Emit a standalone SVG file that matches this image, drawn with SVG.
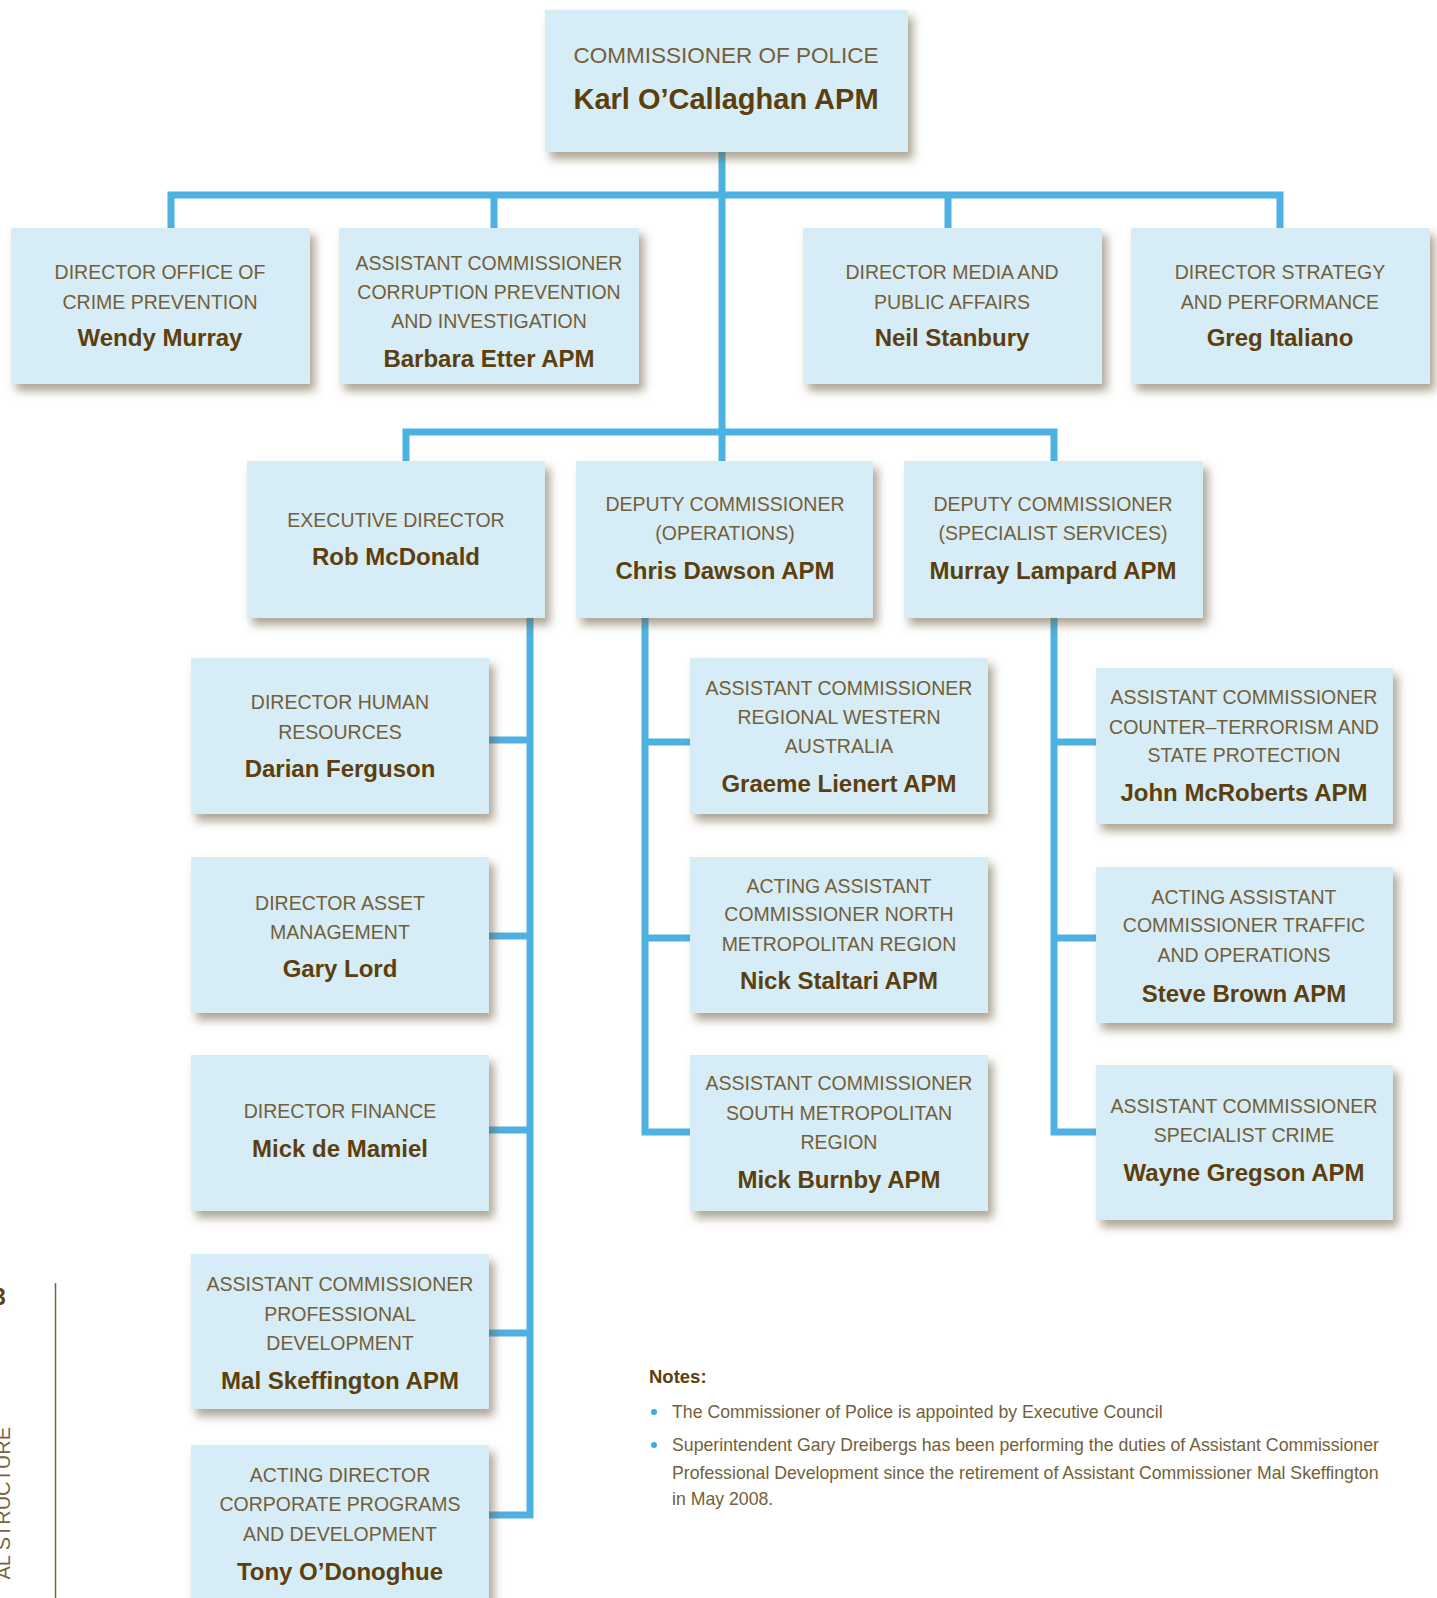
<svg xmlns="http://www.w3.org/2000/svg" width="1437" height="1598" viewBox="0 0 1437 1598">
<defs>
<filter id="sh" x="-10%" y="-10%" width="125%" height="130%">
<feDropShadow dx="5" dy="7" stdDeviation="5" flood-color="#6b5a3a" flood-opacity="0.55"/>
</filter>
<style>
.box{fill:#d6ecf6;filter:url(#sh)}
.t{font-family:"Liberation Sans",Arial,sans-serif;font-size:19.5px;fill:#735f3a;text-anchor:middle}
.n{font-family:"Liberation Sans",Arial,sans-serif;font-size:24px;font-weight:bold;fill:#5c3f0c;text-anchor:middle}
.c{fill:none;stroke:#4db2e2;stroke-width:7;stroke-linejoin:miter;stroke-linecap:butt}
.note{font-family:"Liberation Sans",Arial,sans-serif;font-size:17.7px;fill:#735f3a}
</style>
</defs>
<rect width="1437" height="1598" fill="#ffffff"/>
<g id="connectors">
<path class="c" d="M722,152 V461"/>
<path class="c" d="M171,228 V195 H1280 V228"/>
<path class="c" d="M494,195 V228 M948,195 V228"/>
<path class="c" d="M406,461 V432 H1054 V461"/>
<path class="c" d="M530,618 V1515 H489"/>
<path class="c" d="M489,740 H530 M489,936 H530 M489,1130 H530 M489,1333 H530"/>
<path class="c" d="M645,618 V1132 H690"/>
<path class="c" d="M645,742 H690 M645,938 H690"/>
<path class="c" d="M1054,618 V1132 H1096"/>
<path class="c" d="M1054,742 H1096 M1054,938 H1096"/>
</g>
<g id="commissioner">
<rect class="box" x="545" y="10" width="363" height="142"/>
<text x="726" y="63" class="t" style="font-size:22.5px">COMMISSIONER OF POLICE</text>
<text x="726" y="109" class="n" style="font-size:29px">Karl O’Callaghan APM</text>
</g>
<g id="dir-crime-prevention">
<rect class="box" x="11" y="228" width="299" height="156"/>
<text x="160" y="279" class="t">DIRECTOR OFFICE OF</text>
<text x="160" y="309" class="t">CRIME PREVENTION</text>
<text x="160" y="346" class="n">Wendy Murray</text>
</g>
<g id="ac-corruption">
<rect class="box" x="339" y="228" width="300" height="156"/>
<text x="489" y="270" class="t">ASSISTANT COMMISSIONER</text>
<text x="489" y="299" class="t">CORRUPTION PREVENTION</text>
<text x="489" y="328" class="t">AND INVESTIGATION</text>
<text x="489" y="367" class="n">Barbara Etter APM</text>
</g>
<g id="dir-media">
<rect class="box" x="803" y="228" width="299" height="156"/>
<text x="952" y="279" class="t">DIRECTOR MEDIA AND</text>
<text x="952" y="309" class="t">PUBLIC AFFAIRS</text>
<text x="952" y="346" class="n">Neil Stanbury</text>
</g>
<g id="dir-strategy">
<rect class="box" x="1131" y="228" width="299" height="156"/>
<text x="1280" y="279" class="t">DIRECTOR STRATEGY</text>
<text x="1280" y="309" class="t">AND PERFORMANCE</text>
<text x="1280" y="346" class="n">Greg Italiano</text>
</g>
<g id="exec-director">
<rect class="box" x="247" y="461" width="298" height="157"/>
<text x="396" y="527" class="t">EXECUTIVE DIRECTOR</text>
<text x="396" y="565" class="n">Rob McDonald</text>
</g>
<g id="dc-operations">
<rect class="box" x="576" y="461" width="297" height="157"/>
<text x="725" y="511" class="t">DEPUTY COMMISSIONER</text>
<text x="725" y="540" class="t">(OPERATIONS)</text>
<text x="725" y="579" class="n">Chris Dawson APM</text>
</g>
<g id="dc-specialist">
<rect class="box" x="904" y="461" width="299" height="157"/>
<text x="1053" y="511" class="t">DEPUTY COMMISSIONER</text>
<text x="1053" y="540" class="t">(SPECIALIST SERVICES)</text>
<text x="1053" y="579" class="n">Murray Lampard APM</text>
</g>
<g id="dir-hr">
<rect class="box" x="191" y="658" width="298" height="156"/>
<text x="340" y="709" class="t">DIRECTOR HUMAN</text>
<text x="340" y="739" class="t">RESOURCES</text>
<text x="340" y="777" class="n">Darian Ferguson</text>
</g>
<g id="dir-asset">
<rect class="box" x="191" y="857" width="298" height="156"/>
<text x="340" y="910" class="t">DIRECTOR ASSET</text>
<text x="340" y="939" class="t">MANAGEMENT</text>
<text x="340" y="977" class="n">Gary Lord</text>
</g>
<g id="dir-finance">
<rect class="box" x="191" y="1055" width="298" height="156"/>
<text x="340" y="1118" class="t">DIRECTOR FINANCE</text>
<text x="340" y="1157" class="n">Mick de Mamiel</text>
</g>
<g id="ac-prof-dev">
<rect class="box" x="191" y="1254" width="298" height="155"/>
<text x="340" y="1291" class="t">ASSISTANT COMMISSIONER</text>
<text x="340" y="1321" class="t">PROFESSIONAL</text>
<text x="340" y="1350" class="t">DEVELOPMENT</text>
<text x="340" y="1389" class="n">Mal Skeffington APM</text>
</g>
<g id="acting-dir-corporate">
<rect class="box" x="191" y="1445" width="298" height="175"/>
<text x="340" y="1482" class="t">ACTING DIRECTOR</text>
<text x="340" y="1511" class="t">CORPORATE PROGRAMS</text>
<text x="340" y="1541" class="t">AND DEVELOPMENT</text>
<text x="340" y="1580" class="n">Tony O’Donoghue</text>
</g>
<g id="ac-regional">
<rect class="box" x="690" y="658" width="298" height="156"/>
<text x="839" y="695" class="t">ASSISTANT COMMISSIONER</text>
<text x="839" y="724" class="t">REGIONAL WESTERN</text>
<text x="839" y="753" class="t">AUSTRALIA</text>
<text x="839" y="792" class="n">Graeme Lienert APM</text>
</g>
<g id="aac-north">
<rect class="box" x="690" y="857" width="298" height="156"/>
<text x="839" y="893" class="t">ACTING ASSISTANT</text>
<text x="839" y="921" class="t">COMMISSIONER NORTH</text>
<text x="839" y="951" class="t">METROPOLITAN REGION</text>
<text x="839" y="989" class="n">Nick Staltari APM</text>
</g>
<g id="ac-south">
<rect class="box" x="690" y="1055" width="298" height="156"/>
<text x="839" y="1090" class="t">ASSISTANT COMMISSIONER</text>
<text x="839" y="1120" class="t">SOUTH METROPOLITAN</text>
<text x="839" y="1149" class="t">REGION</text>
<text x="839" y="1188" class="n">Mick Burnby APM</text>
</g>
<g id="ac-counter-terrorism">
<rect class="box" x="1096" y="668" width="297" height="156"/>
<text x="1244" y="704" class="t">ASSISTANT COMMISSIONER</text>
<text x="1244" y="734" class="t">COUNTER–TERRORISM AND</text>
<text x="1244" y="762" class="t">STATE PROTECTION</text>
<text x="1244" y="801" class="n">John McRoberts APM</text>
</g>
<g id="aac-traffic">
<rect class="box" x="1096" y="867" width="297" height="156"/>
<text x="1244" y="904" class="t">ACTING ASSISTANT</text>
<text x="1244" y="932" class="t">COMMISSIONER TRAFFIC</text>
<text x="1244" y="962" class="t">AND OPERATIONS</text>
<text x="1244" y="1002" class="n">Steve Brown APM</text>
</g>
<g id="ac-specialist-crime">
<rect class="box" x="1096" y="1065" width="297" height="155"/>
<text x="1244" y="1113" class="t">ASSISTANT COMMISSIONER</text>
<text x="1244" y="1142" class="t">SPECIALIST CRIME</text>
<text x="1244" y="1181" class="n">Wayne Gregson APM</text>
</g>
<g id="notes">
<text x="649" y="1383" font-family="Liberation Sans, Arial, sans-serif" font-size="18.5" font-weight="bold" fill="#5c3f0c">Notes:</text>
<circle cx="654" cy="1412" r="3" fill="#3fa9e0"/>
<circle cx="654" cy="1445" r="3" fill="#3fa9e0"/>
<text x="672" y="1418" class="note">The Commissioner of Police is appointed by Executive Council</text>
<text x="672" y="1451" class="note">Superintendent Gary Dreibergs has been performing the duties of Assistant Commissioner</text>
<text x="672" y="1479" class="note">Professional Development since the retirement of Assistant Commissioner Mal Skeffington</text>
<text x="672" y="1505" class="note">in May 2008.</text>
</g>
<g id="page-margin">
<text x="-7" y="1305" font-family="Liberation Sans, Arial, sans-serif" font-size="23" font-weight="bold" fill="#5c3f0c">3</text>
<text transform="translate(10,1427) rotate(-90)" text-anchor="end" font-family="Liberation Sans, Arial, sans-serif" font-size="20" fill="#7a6540">AL STRUCTURE</text>
<line x1="55.5" y1="1283" x2="55.5" y2="1598" stroke="#7a6540" stroke-width="1.5"/>
</g>
</svg>
